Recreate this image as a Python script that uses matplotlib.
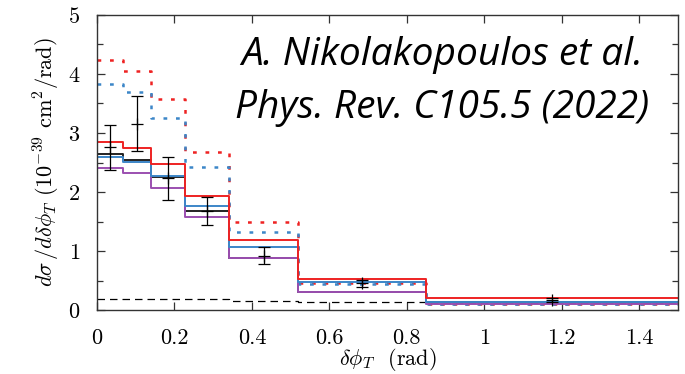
import matplotlib
matplotlib.use("Agg")
import matplotlib.pyplot as plt
import numpy as np

plt.rcParams["mathtext.fontset"] = "cm"
plt.rcParams["font.family"] = ["cmr10"]
plt.rcParams["axes.formatter.use_mathtext"] = True

# delta phi_T bin edges (rad)
bin_edges = [0.0, 0.067, 0.14, 0.227, 0.34, 0.52, 0.85, 1.5]

# model predictions per bin (10^-39 cm^2/rad)
red_solid = [2.85, 2.75, 2.47, 1.94, 1.19, 0.53, 0.20]
blue_solid = [2.60, 2.51, 2.27, 1.77, 1.07, 0.48, 0.13]
black_solid = [2.65, 2.54, 2.25, 1.67, 0.89, 0.30, 0.13]
purple_solid = [2.40, 2.32, 2.06, 1.57, 0.89, 0.30, 0.11]
red_dotted = [4.23, 4.05, 3.57, 2.68, 1.49, 0.46, 0.11]
blue_dotted = [3.83, 3.69, 3.25, 2.43, 1.32, 0.44, 0.11]
black_dashed = [0.19, 0.19, 0.19, 0.19, 0.16, 0.14, 0.12]

# measured data
data_x = [0.0335, 0.1035, 0.1835, 0.2835, 0.43, 0.685, 1.175]
data_y = [2.76, 3.16, 2.23, 1.68, 0.92, 0.45, 0.175]
data_err = [0.38, 0.46, 0.36, 0.24, 0.14, 0.065, 0.035]

x_ticks = [0, 0.2, 0.4, 0.6, 0.8, 1.0, 1.2, 1.4]
x_tick_labels = ["0", "0.2", "0.4", "0.6", "0.8", "1", "1.2", "1.4"]
y_ticks = [0, 1, 2, 3, 4, 5]

fig = plt.figure(figsize=(6.85, 3.74), dpi=100)
ax = fig.add_axes([0.1416, 0.171, 0.848, 0.789])


def step(values, **kw):
    v = list(values) + [values[-1]]
    ax.step(bin_edges, v, where="post", **kw)


step(red_dotted, color="#ee2222", lw=1.8, ls=(0, (1.5, 3.5)))
step(blue_dotted, color="#3c86c8", lw=1.8, ls=(0, (1.5, 3.5)))
step(black_dashed, color="black", lw=0.9, ls=(0, (6, 4)))
step(black_solid, color="#222222", lw=1.4)
step(purple_solid, color="#9b4fb0", lw=1.4)
step(blue_solid, color="#3c86c8", lw=1.4)
step(red_solid, color="#ee2222", lw=1.4)

ax.errorbar(data_x, data_y, yerr=data_err, fmt="+", color="black",
            ms=9, mew=0.9, elinewidth=0.9, capsize=4, capthick=0.9, zorder=5)

ax.set_xlim(0, 1.5)
ax.set_ylim(0, 5)
ax.set_xticks(x_ticks)
ax.set_xticklabels(x_tick_labels)
ax.set_yticks(y_ticks)
ax.set_yticks(np.arange(0.5, 5, 1.0), minor=True)
ax.tick_params(which="both", direction="in", top=True, right=True,
               labelsize=16, width=0.9, color="#333333")
ax.tick_params(which="major", length=6)
ax.tick_params(axis="y", which="major", pad=12)
ax.tick_params(axis="x", which="major", pad=13)
ax.tick_params(which="minor", length=4)
for s in ax.spines.values():
    s.set_linewidth(1.0)
    s.set_color("#333333")

ax.set_xlabel(r"$\delta\phi_T$  (rad)", fontsize=16, labelpad=-1)
ax.set_ylabel(r"$d\sigma\,/d\delta\phi_T$ $(10^{-39}$ cm$^2$/rad$)$",
              fontsize=16, labelpad=4)

ax.text(0.594, 0.865, "A. Nikolakopoulos et al.", transform=ax.transAxes,
        ha="center", va="center", fontsize=28, style="italic",
        family=["Open Sans"])
ax.text(0.594, 0.685, "Phys. Rev. C105.5 (2022)", transform=ax.transAxes,
        ha="center", va="center", fontsize=28, style="italic",
        family=["Open Sans"])

fig.savefig("out.png", dpi=100)
